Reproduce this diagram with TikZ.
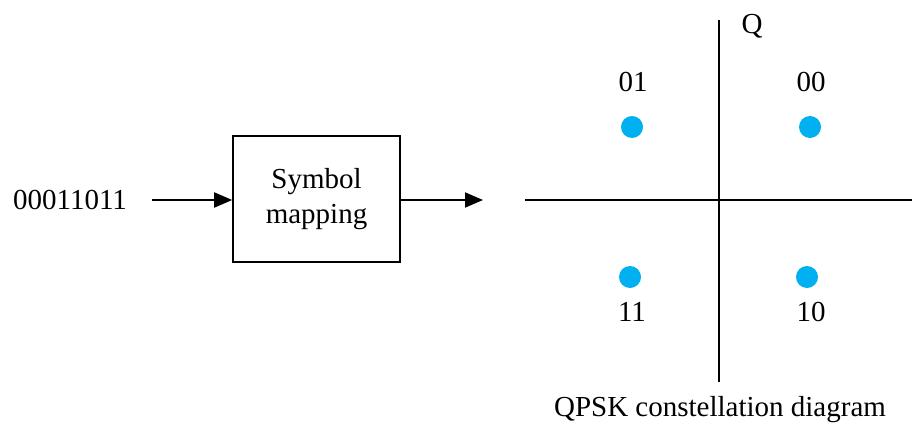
\documentclass[tikz,border=0pt]{standalone}
\usepackage{fontspec}
\setmainfont{Liberation Serif}
\usetikzlibrary{arrows.meta}
\definecolor{dotblue}{HTML}{00B0F0}
\begin{document}
\begin{tikzpicture}[x=1pt,y=-1pt,
  lbl/.style={font=\fontsize{29}{33}\selectfont, inner sep=0pt},
  conn/.style={line width=1.8pt, -{Triangle[length=18pt,width=15pt]}},
  axis/.style={line width=1.8pt},
  pt/.style={circle, fill=dotblue, minimum size=22pt, inner sep=0pt}]
\useasboundingbox (0,0) rectangle (917,425);
\node[lbl] (in) at (70,200) {00011011};
\node[lbl, draw, line width=1.6pt, minimum width=167pt, minimum height=126pt, align=center] (map) at (316.5,199) {Symbol\\[2pt]mapping};
\coordinate (inS) at (152,200);
\coordinate (outE) at (483,200);
\draw[conn] (inS) -- (map.west |- inS);
\draw[conn] (map.east |- outE) -- (outE);
\coordinate (hL) at (525,200);
\coordinate (hR) at (912,200);
\coordinate (vT) at (719,20);
\coordinate (vB) at (719,382);
\draw[axis] (hL) -- (hR);
\draw[axis] (vT) -- (vB);
\node[lbl] (Q) at (752,26) {Q};
\node[lbl] (I) at (924,228) {I};
\node[pt] (p01) at (632,127) {};
\node[pt] (p00) at (810,127) {};
\node[pt] (p11) at (630,277) {};
\node[pt] (p10) at (807,277) {};
\node[lbl] (l01) at (633,82) {01};
\node[lbl] (l00) at (811,82) {00};
\node[lbl] (l11) at (632,312) {11};
\node[lbl] (l10) at (811,312) {10};
\node[lbl] (cap) at (720,410) {QPSK constellation diagram};
\end{tikzpicture}
\end{document}
